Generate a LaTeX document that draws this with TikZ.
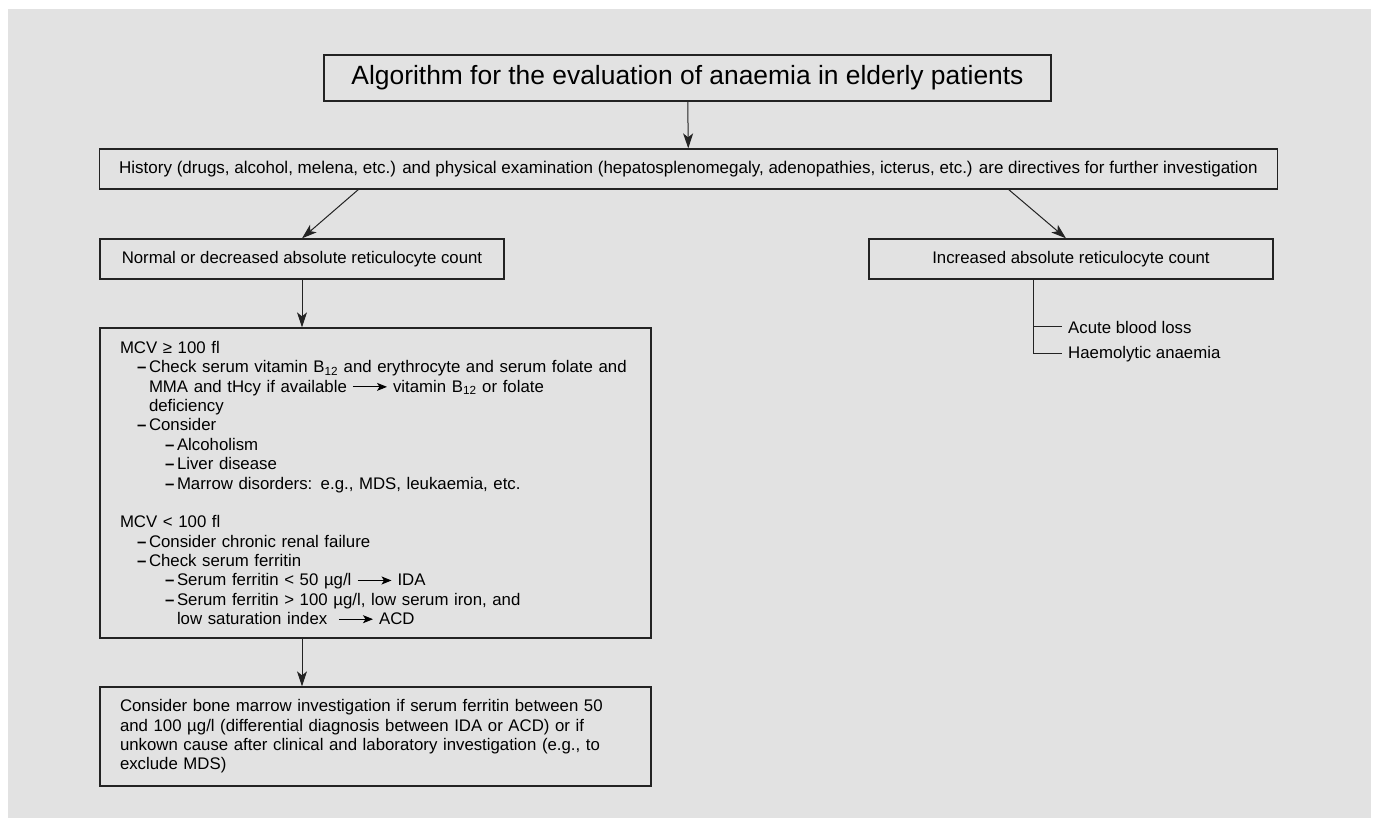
\documentclass[tikz,border=0pt]{standalone}
\usepackage{fontspec}
\setmainfont{Liberation Sans}
\usetikzlibrary{arrows.meta}

\definecolor{bggray}{RGB}{226,226,226}
\definecolor{ink}{RGB}{35,35,35}

\tikzset{
  box/.style={draw=ink, line width=1.3pt, inner xsep=20pt, inner ysep=0pt, align=left,
    font=\fontsize{16.8}{19.36}\selectfont},
  arr/.style={draw=ink, line width=1pt, -{Stealth[length=15pt,width=10pt,inset=4pt]}},
  leaf/.style={inner xsep=6pt, inner ysep=0pt, font=\fontsize{16.8}{19.36}\selectfont},
}
\newcommand{\longarr}{\tikz[baseline=-0.6ex]\draw[line width=0.9pt,-{Stealth[length=10pt,width=8pt,inset=2.5pt]}] (0,0)--(34pt,0);}
\newcommand{\dsh}{\makebox[12pt][l]{\textbf{--}}}

\begin{document}
\begin{tikzpicture}[x=1pt,y=-1pt]
\useasboundingbox (0,0) rectangle (1374,818);
\fill[bggray] (8,9) rectangle (1371,818);

\node[box, minimum width=727pt, minimum height=46pt, align=center, font=\fontsize{26.4}{30}\selectfont] (title) at (687.5,78) {Algorithm for the evaluation of anaemia in elderly patients};
\node[box, minimum width=1177pt, minimum height=40pt, align=center, font=\fontsize{17}{19.4}\selectfont] (hist) at (688.5,169) {History (drugs, alcohol, melena, etc.) and physical examination (hepatosplenomegaly, adenopathies, icterus, etc.) are directives for further investigation};
\node[box, minimum width=404pt, minimum height=40pt, align=center] (normal) at (302,259) {Normal or decreased absolute reticulocyte count};
\node[box, minimum width=404pt, minimum height=40pt, align=center] (incr) at (1071,259) {Increased absolute reticulocyte count};

\node[box, text width=511pt, minimum height=310pt] (mcv) at (375.5,483) {%
MCV ≥ 100 fl\\
\hspace*{17pt}\dsh Check serum vitamin B\textsubscript{12} and erythrocyte and serum folate and\\
\hspace*{29pt}MMA and tHcy if available \longarr{} vitamin B\textsubscript{12} or folate\\
\hspace*{29pt}deficiency\\
\hspace*{17pt}\dsh Consider\\
\hspace*{45pt}\dsh Alcoholism\\
\hspace*{45pt}\dsh Liver disease\\
\hspace*{45pt}\dsh Marrow disorders: e.g., MDS, leukaemia, etc.\\[19.36pt]
MCV < 100 fl\\
\hspace*{17pt}\dsh Consider chronic renal failure\\
\hspace*{17pt}\dsh Check serum ferritin\\
\hspace*{45pt}\dsh Serum ferritin < 50 µg/l \longarr{} IDA\\
\hspace*{45pt}\dsh Serum ferritin > 100 µg/l, low serum iron, and\\
\hspace*{57pt}low saturation index \ \longarr{} ACD};

\node[box, text width=511pt, minimum height=99pt] (marrow) at (375.5,736.5) {%
Consider bone marrow investigation if serum ferritin between 50\\
and 100 µg/l (differential diagnosis between IDA or ACD) or if\\
unkown cause after clinical and laboratory investigation (e.g., to\\
exclude MDS)};

\node[leaf, anchor=west] (acute) at (1062,327) {Acute blood loss};
\node[leaf, anchor=west] (haem) at (1062,354) {Haemolytic anaemia};

\coordinate (h1) at (359,189);
\coordinate (h2) at (1008,189);
\coordinate (t0) at (1033,279);

\draw[arr] (title) -- (hist);
\draw[arr] (h1) -- (normal.north);
\draw[arr] (h2) -- (incr.north -| 1066,0);
\draw[arr] (normal) -- (normal.south |- mcv.north);
\draw[arr] (normal.south |- mcv.south) -- (normal.south |- marrow.north);
\draw[ink, line width=1pt] (t0) |- (acute.west);
\draw[ink, line width=1pt] (t0) |- (haem.west);
\end{tikzpicture}
\end{document}
